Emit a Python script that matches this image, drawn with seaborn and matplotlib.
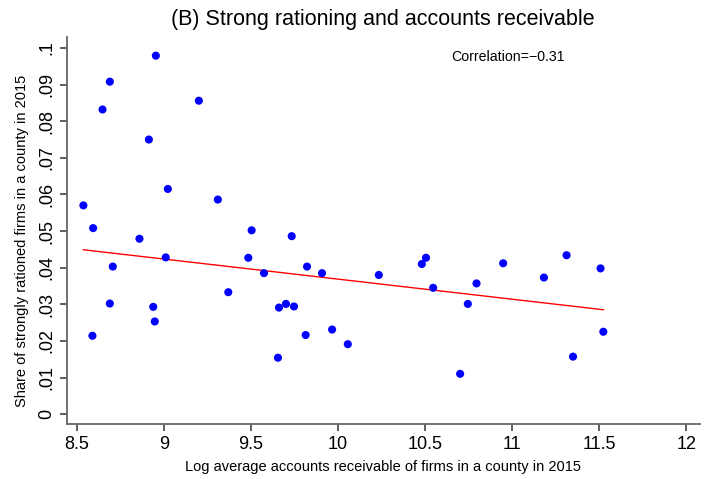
import matplotlib
matplotlib.use("Agg")
import matplotlib.pyplot as plt
import seaborn as sns
import pandas as pd

log_ar = [8.538, 8.594, 8.590, 8.648, 8.690, 8.690, 8.707, 8.860, 8.914, 8.939,
          8.948, 8.954, 9.011, 9.023, 9.201, 9.310, 9.370, 9.485, 9.504, 9.575,
          9.655, 9.661, 9.701, 9.734, 9.747, 9.814, 9.822, 9.908, 9.966, 10.056,
          10.234, 10.481, 10.505, 10.546, 10.701, 10.745, 10.795, 10.948, 11.182, 11.312,
          11.349, 11.507, 11.523]
share_rationed = [0.0570, 0.0508, 0.0214, 0.0832, 0.0908, 0.0302, 0.0403, 0.0479, 0.0750, 0.0293,
                  0.0253, 0.0979, 0.0428, 0.0615, 0.0856, 0.0586, 0.0333, 0.0427, 0.0502, 0.0385,
                  0.0154, 0.0291, 0.0301, 0.0486, 0.0294, 0.0216, 0.0403, 0.0385, 0.0231, 0.0191,
                  0.0380, 0.0410, 0.0427, 0.0345, 0.0110, 0.0301, 0.0357, 0.0412, 0.0373, 0.0434,
                  0.0157, 0.0398, 0.0225]
# fitted line values
fit_x = [8.536, 11.525]
fit_y = [0.0449, 0.0285]

x_ticks = [8.5, 9, 9.5, 10, 10.5, 11, 11.5, 12]
x_tick_labels = ["8.5", "9", "9.5", "10", "10.5", "11", "11.5", "12"]
y_ticks = [0, 0.01, 0.02, 0.03, 0.04, 0.05, 0.06, 0.07, 0.08, 0.09, 0.1]
y_tick_labels = ["0", ".01", ".02", ".03", ".04", ".05", ".06", ".07", ".08", ".09", ".1"]

df = pd.DataFrame({"x": log_ar, "y": share_rationed})
fit_df = pd.DataFrame({"x": fit_x, "y": fit_y})

sns.set_theme(style="white")
plt.rcParams['font.family'] = ['Liberation Sans', 'DejaVu Sans']
plt.rcParams['text.color'] = 'black'
plt.rcParams['axes.labelcolor'] = 'black'
plt.rcParams['xtick.color'] = 'black'
plt.rcParams['ytick.color'] = 'black'

fig = plt.figure(figsize=(7.04, 4.79), dpi=100)
ax = fig.add_axes([67/704, 55/479, (700-67)/704, (442-55)/479])

sns.lineplot(data=fit_df, x="x", y="y", ax=ax, color="red", lw=1.0, zorder=2)
sns.scatterplot(data=df, x="x", y="y", ax=ax, color="#0000ff", s=34,
                edgecolor="none", zorder=3)

ax.set_xlim(8.444, 12.078)
ax.set_ylim(-0.0027, 0.103)
ax.set_xticks(x_ticks)
ax.set_xticklabels(x_tick_labels, fontsize=13)
ax.set_yticks(y_ticks)
ax.set_yticklabels(y_tick_labels, fontsize=13, rotation=90, va="center")

for side in ["top", "right"]:
    ax.spines[side].set_visible(False)
for side in ["left", "bottom"]:
    ax.spines[side].set_color("#666666")
    ax.spines[side].set_linewidth(1.3)
ax.tick_params(axis="both", direction="out", length=5, width=1.1, color="#333333",
               left=True, bottom=True, pad=3.5)

ax.set_xlabel("Log average accounts receivable of firms in a county in 2015", fontsize=10.5,
              va="center")
ax.set_ylabel("Share of strongly rationed firms in a county in 2015", fontsize=10.5,
              va="center")
ax.xaxis.set_label_coords(383/704, 12/479, transform=fig.transFigure)
ax.yaxis.set_label_coords(22/704, (479-241)/479, transform=fig.transFigure)

fig.text(383/704, 1 - 19/479, "(B) Strong rationing and accounts receivable", fontsize=15.5,
         ha="center", va="center")
fig.text(508/704, 1 - 57/479, "Correlation=\u22120.31", fontsize=10.2, ha="center", va="center")

fig.savefig("out.png", dpi=100, facecolor="white")
